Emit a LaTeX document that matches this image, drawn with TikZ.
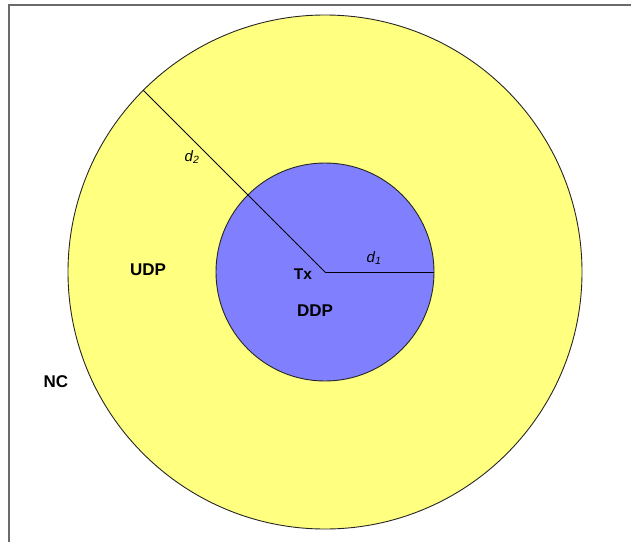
\documentclass[tikz,border=0pt]{standalone}
\usepackage{fontspec}
\setmainfont{Liberation Sans}
\usepackage{xcolor}
\usepackage{tikz}
\usetikzlibrary{calc,positioning}
\definecolor{zoneyel}{HTML}{FFFF80}
\definecolor{zoneblu}{HTML}{8080FF}
\definecolor{framec}{HTML}{6B6B6B}
\tikzset{
  zone/.style={circle,draw=black!85,line width=0.9pt,inner sep=0pt,outer sep=0pt},
  lbl/.style={font=\fontsize{17}{19}\selectfont\bfseries,inner sep=1pt},
  dist/.style={font=\fontsize{15}{17}\selectfont\itshape,inner sep=1pt},
  rad/.style={black,line width=0.8pt}
}

\begin{document}
\begin{tikzpicture}[x=1pt,y=1pt]
\useasboundingbox (0,0) rectangle (631,542);
\draw[framec,line width=1.6pt] (9,0) -- (9,537) -- (631,537);
\coordinate (tx) at (325,270);
\node[zone,fill=zoneyel,minimum size=514pt] (outer) at (tx) {};
\node[zone,fill=zoneblu,minimum size=218pt] (inner) at (tx) {};
\draw[rad] (tx) -- (inner.east);
\draw[rad] (tx) -- (outer.135);
\node[lbl,font=\fontsize{15.5}{17}\selectfont\bfseries] (txl) at (303,268) {Tx};
\node[dist] (d1) at (374,284) {d\textsubscript{1}};
\node[dist] (d2) at (192,385) {d\textsubscript{2}};
\node[lbl] (udp) at (148,272) {UDP};
\node[lbl] (ddp) at (315,231) {DDP};
\node[lbl] (nc) at (56,160) {NC};
\end{tikzpicture}
\end{document}
